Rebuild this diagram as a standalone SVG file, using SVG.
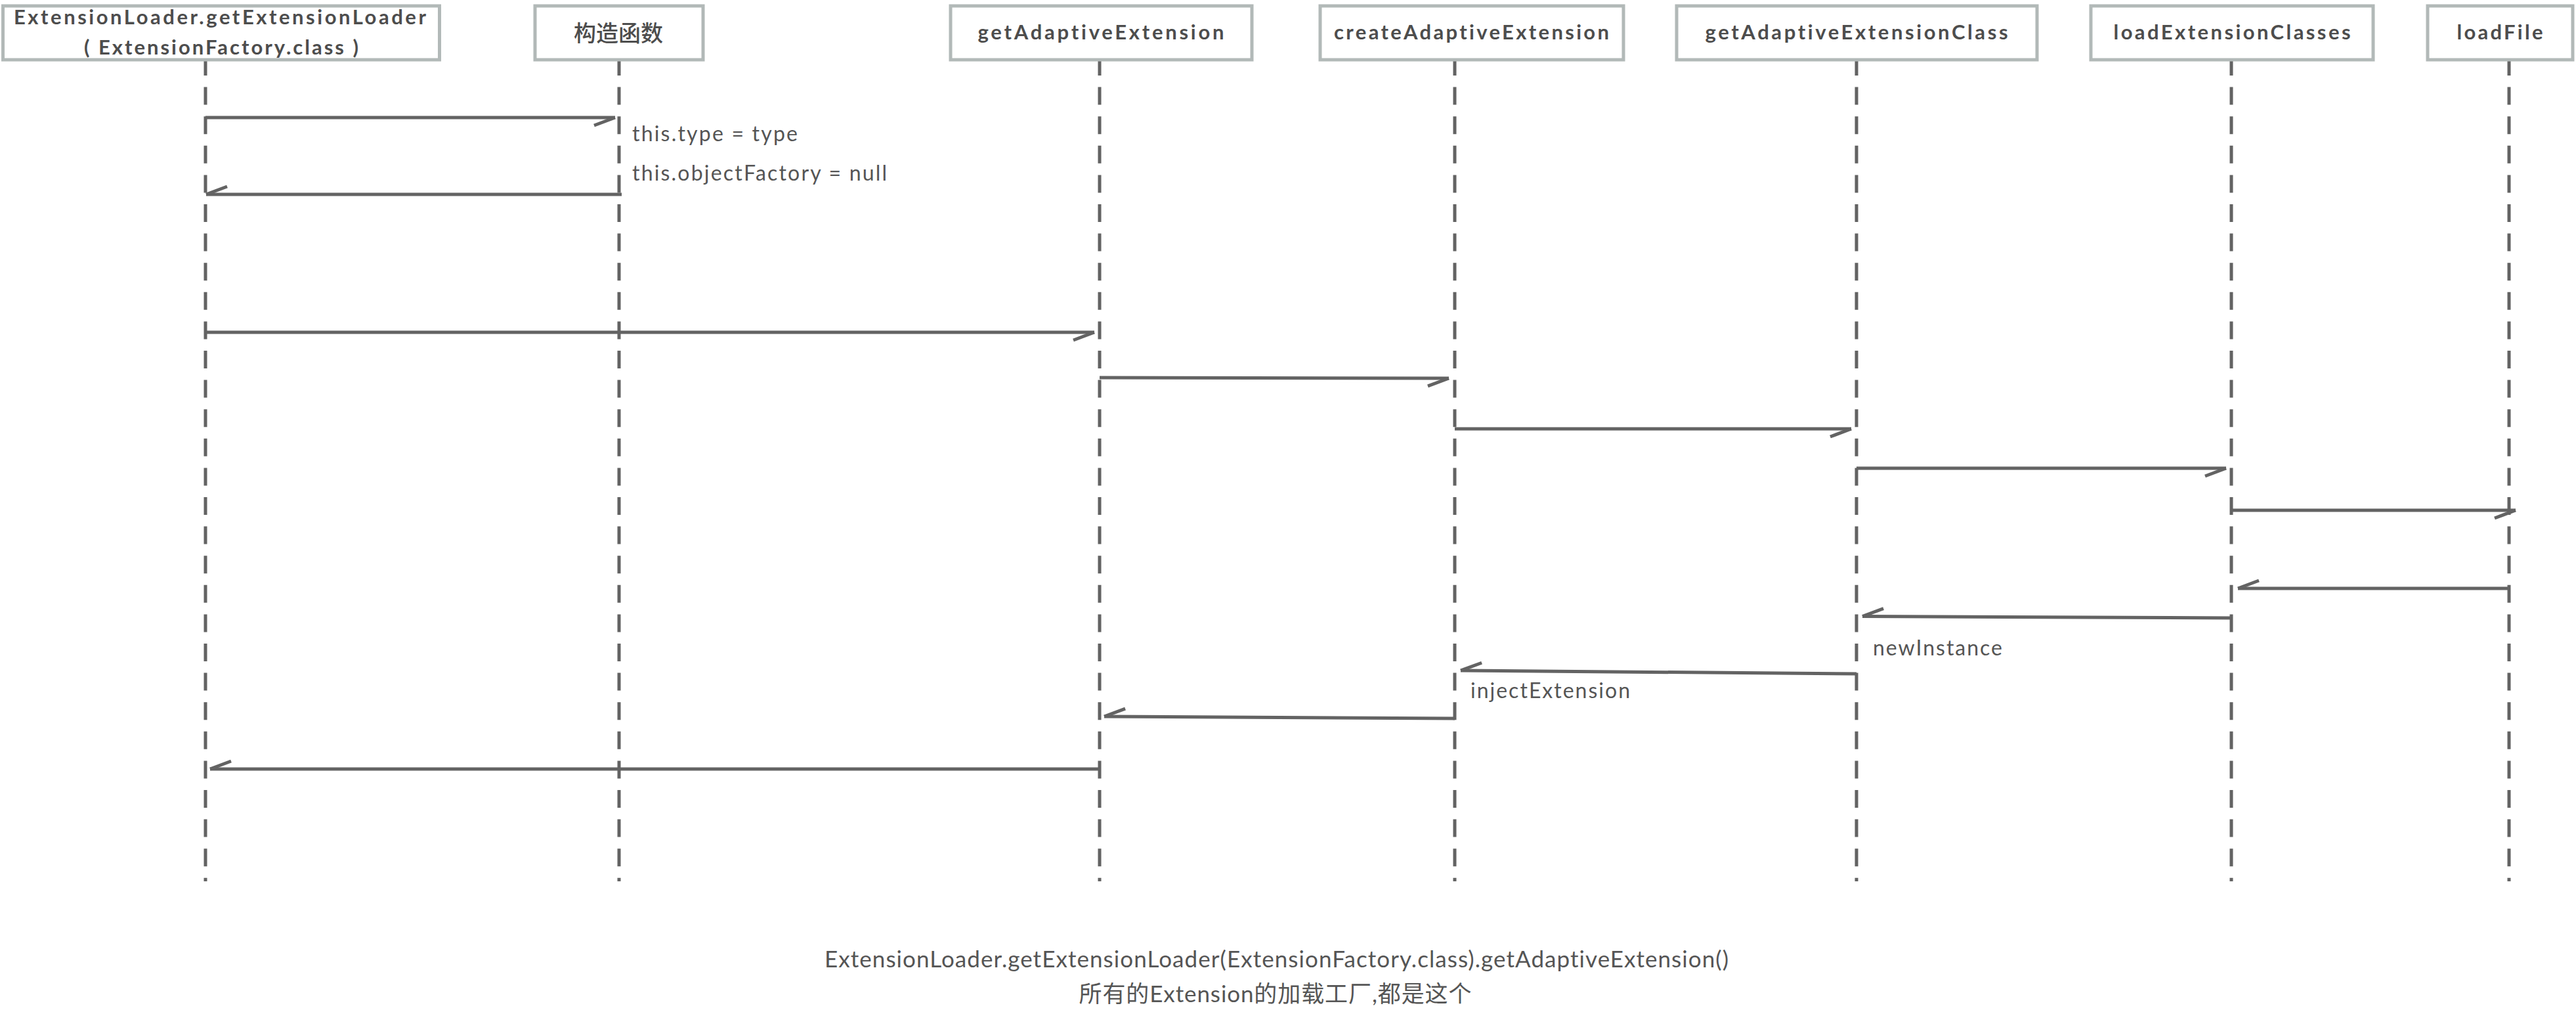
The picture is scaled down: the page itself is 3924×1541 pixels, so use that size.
<svg xmlns="http://www.w3.org/2000/svg" width="3924" height="1541" viewBox="0 0 3924 1541">
<style>
text{font-variant-ligatures:none}
.box{fill:#ffffff;stroke:#b2b9b8;stroke-width:5}
.hdr{font-family:Lato,"Noto Sans CJK SC",sans-serif;font-weight:700;font-size:31px;fill:#4d4d4d;text-anchor:middle}
.cjk{font-family:"Noto Sans CJK SC",sans-serif;font-weight:500;font-size:34px;fill:#4d4d4d;text-anchor:middle}
.life{stroke:#636363;stroke-width:5;stroke-dasharray:27 17.6;fill:none}
.msg{stroke:#636363;stroke-width:5;fill:none;marker-end:url(#half)}
.lbl{font-family:Lato,sans-serif;font-size:32px;fill:#555555}
.foot{font-family:Lato,"Noto Sans CJK SC",sans-serif;font-size:35px;fill:#555555;text-anchor:middle}
</style>
<defs>
<marker id="half" markerUnits="userSpaceOnUse" markerWidth="80" markerHeight="80" refX="0" refY="0" orient="auto" overflow="visible" viewBox="-40 -40 80 80">
<path d="M0,0 L-32,12" stroke="#636363" stroke-width="5" fill="none"/>
</marker>
</defs>
<rect width="3924" height="1541" fill="#ffffff"/>
<g id="lifelines">
<line class="life" x1="313" y1="88" x2="313" y2="1342"/>
<line class="life" x1="943" y1="88" x2="943" y2="1342"/>
<line class="life" x1="1675" y1="88" x2="1675" y2="1342"/>
<line class="life" x1="2216" y1="88" x2="2216" y2="1342"/>
<line class="life" x1="2828" y1="88" x2="2828" y2="1342"/>
<line class="life" x1="3399" y1="88" x2="3399" y2="1342"/>
<line class="life" x1="3822" y1="88" x2="3822" y2="1342"/>
</g>
<g id="node-extensionloader">
<rect class="box" x="4.5" y="9" width="665" height="82"/>
<text class="hdr" x="335" y="37" textLength="628">ExtensionLoader.getExtensionLoader</text>
<text class="hdr" x="337" y="83" textLength="418">( ExtensionFactory.class )</text>
</g>
<g id="node-constructor">
<rect class="box" x="815" y="9" width="256" height="82"/>
<text class="cjk" x="942" y="63">构造函数</text>
</g>
<g id="node-getadaptiveextension">
<rect class="box" x="1448" y="9" width="459" height="82"/>
<text class="hdr" x="1677" y="60" textLength="375">getAdaptiveExtension</text>
</g>
<g id="node-createadaptiveextension">
<rect class="box" x="2011" y="9" width="462" height="82"/>
<text class="hdr" x="2241.5" y="60" textLength="419">createAdaptiveExtension</text>
</g>
<g id="node-getadaptiveextensionclass">
<rect class="box" x="2554" y="9" width="549" height="82"/>
<text class="hdr" x="2828" y="60" textLength="461">getAdaptiveExtensionClass</text>
</g>
<g id="node-loadextensionclasses">
<rect class="box" x="3185" y="9" width="430" height="82"/>
<text class="hdr" x="3400" y="60" textLength="361">loadExtensionClasses</text>
</g>
<g id="node-loadfile">
<rect class="box" x="3698" y="9" width="221" height="82"/>
<text class="hdr" x="3808" y="60" textLength="131">loadFile</text>
</g>
<g id="connectors">
<path class="msg" d="M313,179 L937,179"/>
<path class="msg" d="M947,296 L314,296"/>
<path class="msg" d="M313,506 L1667,506"/>
<path class="msg" d="M1675,575 L2207,576"/>
<path class="msg" d="M2216,653 L2820,653"/>
<path class="msg" d="M2828,713 L3391,713"/>
<path class="msg" d="M3399,777 L3832,777"/>
<path class="msg" d="M3822,896 L3409,896"/>
<path class="msg" d="M3399,941 L2837,938.5"/>
<path class="msg" d="M2828,1026 L2225,1021"/>
<path class="msg" d="M2216,1094 L1682,1091"/>
<path class="msg" d="M1675,1171 L320,1171"/>
</g>
<g id="labels">
<text class="lbl" x="963" y="215" textLength="252">this.type = type</text>
<text class="lbl" x="963" y="275" textLength="388">this.objectFactory = null</text>
<text class="lbl" x="2853" y="998" textLength="197">newInstance</text>
<text class="lbl" x="2240" y="1063" textLength="243">injectExtension</text>
</g>
<g id="caption">
<text class="foot" x="1944.5" y="1473" textLength="1377">ExtensionLoader.getExtensionLoader(ExtensionFactory.class).getAdaptiveExtension()</text>
<text class="foot" x="1942.5" y="1526" textLength="598">所有的Extension的加载工厂,都是这个</text>
</g>
</svg>
